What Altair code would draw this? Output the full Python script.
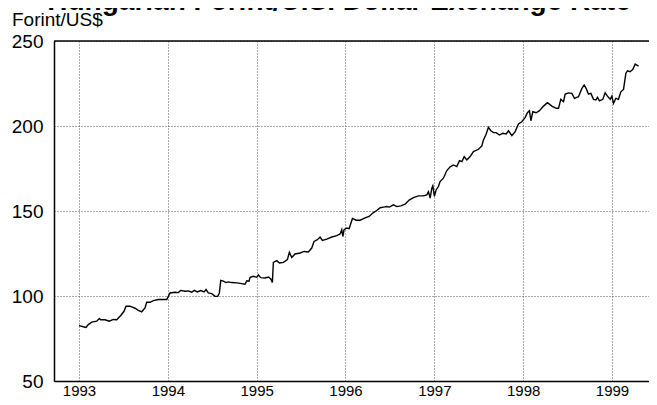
import altair as alt
import pandas as pd

# Decimal-year positions and Forint per US$ values
years = [
    1993.000, 1993.048, 1993.079, 1993.105, 1993.143, 1993.199, 1993.229, 1993.244,
    1993.293, 1993.341, 1993.386, 1993.425, 1993.470, 1993.507, 1993.529, 1993.574,
    1993.631, 1993.668, 1993.706, 1993.743, 1993.762, 1993.800, 1993.837, 1993.893,
    1993.949, 1993.988, 1994.025, 1994.081, 1994.118, 1994.145, 1994.194, 1994.231,
    1994.269, 1994.298, 1994.332, 1994.370, 1994.408, 1994.430, 1994.456, 1994.494,
    1994.532, 1994.562, 1994.580, 1994.596, 1994.625, 1994.655, 1994.681, 1994.720,
    1994.776, 1994.832, 1994.869, 1994.889, 1994.914, 1994.926, 1994.963, 1995.001,
    1995.019, 1995.046, 1995.095, 1995.132, 1995.159, 1995.177, 1995.188, 1995.226,
    1995.256, 1995.301, 1995.346, 1995.368, 1995.395, 1995.432, 1995.489, 1995.534,
    1995.582, 1995.620, 1995.646, 1995.684, 1995.714, 1995.740, 1995.789, 1995.846,
    1995.902, 1995.939, 1995.958, 1995.970, 1995.984, 1996.015, 1996.041, 1996.078,
    1996.119, 1996.164, 1996.221, 1996.266, 1996.307, 1996.352, 1996.390, 1996.427,
    1996.465, 1996.494, 1996.539, 1996.578, 1996.623, 1996.671, 1996.720, 1996.765,
    1996.821, 1996.877, 1996.916, 1996.934, 1996.953, 1996.972, 1996.983, 1997.001,
    1997.020, 1997.046, 1997.065, 1997.102, 1997.141, 1997.178, 1997.215, 1997.253,
    1997.283, 1997.310, 1997.336, 1997.366, 1997.403, 1997.440, 1997.497, 1997.535,
    1997.553, 1997.583, 1997.609, 1997.636, 1997.666, 1997.696, 1997.733, 1997.771,
    1997.809, 1997.835, 1997.873, 1997.910, 1997.947, 1997.985, 1998.023, 1998.048,
    1998.071, 1998.087, 1998.109, 1998.146, 1998.184, 1998.229, 1998.274, 1998.323,
    1998.372, 1998.398, 1998.424, 1998.454, 1998.473, 1998.510, 1998.548, 1998.578,
    1998.623, 1998.661, 1998.687, 1998.709, 1998.735, 1998.762, 1998.792, 1998.819,
    1998.837, 1998.859, 1998.897, 1998.923, 1998.949, 1998.980, 1998.999, 1999.017,
    1999.044, 1999.073, 1999.100, 1999.130, 1999.156, 1999.174, 1999.205, 1999.235,
    1999.261, 1999.280, 1999.299,
]
rates = [
    82.6, 81.9, 81.5, 83.2, 84.6, 85.2, 86.8, 86.0,
    86.0, 85.2, 86.2, 86.0, 88.5, 91.0, 94.0, 94.0,
    92.8, 91.6, 90.7, 93.0, 96.3, 96.3, 97.3, 97.9,
    97.9, 97.9, 101.8, 102.2, 102.0, 103.3, 102.8, 103.0,
    102.2, 103.3, 102.4, 103.2, 102.4, 103.8, 101.8, 101.4,
    99.8, 99.8, 101.8, 109.2, 108.7, 107.9, 108.3, 107.9,
    107.7, 107.3, 106.9, 109.0, 108.7, 111.0, 111.6, 111.0,
    112.4, 110.8, 110.6, 111.2, 110.0, 108.0, 119.8, 120.8,
    119.4, 119.8, 121.4, 125.7, 122.7, 124.7, 125.3, 126.2,
    125.9, 128.2, 132.1, 133.1, 134.7, 132.7, 133.5, 134.7,
    135.5, 136.5, 139.0, 135.0, 139.0, 140.0, 139.6, 145.6,
    144.6, 144.6, 145.9, 146.8, 148.8, 150.3, 151.9, 152.3,
    152.6, 152.3, 153.6, 152.6, 153.0, 154.0, 156.6, 157.9,
    158.9, 158.9, 159.5, 161.4, 157.6, 163.4, 164.8, 158.6,
    162.4, 164.4, 167.3, 169.3, 173.8, 176.0, 177.1, 176.1,
    179.6, 179.0, 182.0, 180.0, 182.0, 184.9, 186.3, 188.3,
    191.8, 195.1, 199.2, 197.2, 196.1, 196.1, 194.7, 195.7,
    195.3, 197.2, 194.3, 196.7, 201.2, 202.5, 205.1, 207.8,
    209.0, 203.1, 208.4, 207.8, 209.0, 211.7, 213.7, 211.7,
    210.4, 210.4, 215.7, 214.3, 218.8, 219.5, 219.2, 216.3,
    217.2, 222.1, 224.1, 222.1, 218.8, 219.2, 215.7, 215.3,
    216.8, 214.8, 215.7, 219.5, 217.6, 215.7, 217.6, 213.3,
    216.3, 215.7, 220.1, 221.5, 230.9, 232.5, 231.9, 233.3,
    236.4, 235.8, 235.2,
]

x_ticks = [1993, 1994, 1995, 1996, 1997, 1998, 1999]
y_ticks = [50, 100, 150, 200, 250]
title_text = "Hungarian Forint/U.S. Dollar Exchange Rate"
unit_text = "Forint/US$"

FONT = "Liberation Sans"

df = pd.DataFrame({"year": years, "rate": rates})

x_scale = alt.Scale(domain=[1992.7185, 1999.4167], nice=False, zero=False)
y_scale = alt.Scale(domain=[50, 250], nice=False, zero=False)

line = alt.Chart(df).mark_line(color="black", strokeWidth=1.4).encode(
    x=alt.X(
        "year:Q",
        scale=x_scale,
        axis=alt.Axis(
            values=x_ticks, format="d", title=None, grid=True,
            gridDash=[1, 2], gridColor="#555", gridWidth=1,
            ticks=False, domainColor="black", domainWidth=1.5,
            labelFont=FONT, labelFontSize=15, labelColor="black",
            labelBaseline="alphabetic", labelPadding=14,
        ),
    ),
    y=alt.Y(
        "rate:Q",
        scale=y_scale,
        axis=alt.Axis(
            values=y_ticks, title=None, grid=True,
            gridDash=[1, 2], gridColor="#555", gridWidth=1,
            ticks=False, domainColor="black", domainWidth=1.5,
            labelFont=FONT, labelFontSize=19, labelColor="black",
            labelPadding=11,
        ),
    ),
)

top_border = alt.Chart(pd.DataFrame({"top": [y_ticks[-1]]})).mark_rule(
    color="black", strokeWidth=1.5
).encode(y=alt.Y("top:Q", scale=y_scale))

title = alt.Chart(pd.DataFrame({"t": [title_text]})).mark_text(
    font=FONT, fontSize=28, fontWeight="bold", color="black",
    align="center", baseline="alphabetic",
).encode(text="t:N", x=alt.value(285), y=alt.value(-31))

unit = alt.Chart(pd.DataFrame({"t": [unit_text]})).mark_text(
    font=FONT, fontSize=19, color="black",
    align="left", baseline="alphabetic",
).encode(text="t:N", x=alt.value(-42), y=alt.value(-15))

chart = alt.layer(line, top_border, title, unit).properties(
    width=595,
    height=340,
    autosize=alt.AutoSizeParams(type="none"),
    padding={"left": 46, "top": 33, "right": 0, "bottom": 16},
    background="white",
).configure_view(stroke=None)

chart.save("out.html", embed_options={"renderer": "svg", "actions": False})
